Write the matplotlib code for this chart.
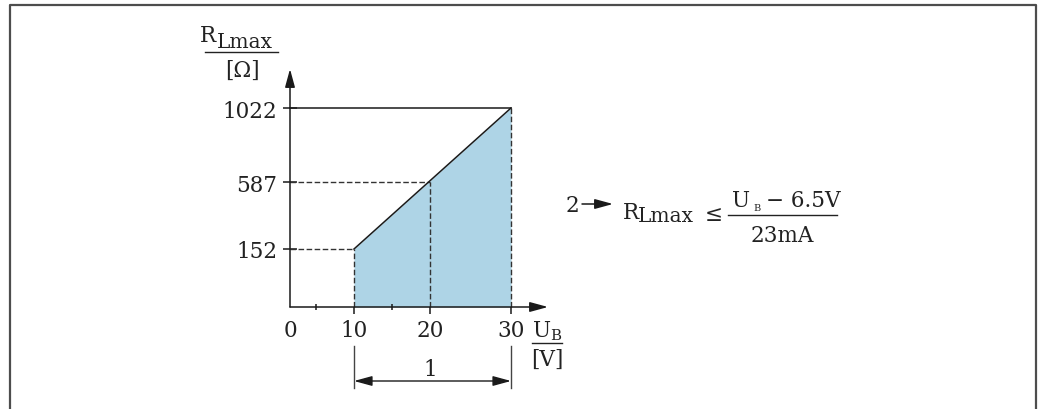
import matplotlib
matplotlib.use('Agg')
import matplotlib.pyplot as plt
import matplotlib.transforms as mtransforms
from matplotlib.lines import Line2D
from matplotlib.patches import FancyArrowPatch
import numpy as np

plt.rcParams['font.family'] = ['DejaVu Serif', 'DejaVu Sans']
plt.rcParams['mathtext.fontset'] = 'dejavuserif'

# values
U_B = [10, 20, 30]            # supply voltage [V]
R_LMAX = [152, 587, 1022]     # max load [Ohm]
X_TICKS = [0, 10, 20, 30]
X_MINOR = [5, 15]

# the drawing is schematic (not to scale): value -> pixel offset from origin
X_KNOT = [-100, 0, 5, 10, 15, 20, 30, 100]
X_PIX = [-520, 0, 26, 64, 102, 140, 221, 788]
Y_KNOT = [-1000, 0, 152, 587, 1022, 3000]
Y_PIX = [-380, 0, 58, 125, 199, 535]

TXT = '#222222'
LINE = '#1a1a1a'
DASH = '#333333'
FILL = '#aed4e6'
FS = 15.5
FS_SUB = 14.5

W, H = 1038, 410
fig = plt.figure(figsize=(W / 100, H / 100), dpi=100)


def fx(x):
    return x / W


def fy(y):
    return 1 - y / H


ax = fig.add_axes([fx(290), fy(308), (548 - 290) / W, (308 - 70) / H])
ax.set_xscale('function', functions=(lambda v: np.interp(v, X_KNOT, X_PIX),
                                     lambda p: np.interp(p, X_PIX, X_KNOT)))
ax.set_yscale('function', functions=(lambda v: np.interp(v, Y_KNOT, Y_PIX),
                                     lambda p: np.interp(p, Y_PIX, Y_KNOT)))
ax.set_xlim(0, np.interp(258, X_PIX, X_KNOT))
ax.set_ylim(0, np.interp(238, Y_PIX, Y_KNOT))
ax.patch.set_visible(False)
for s in ax.spines.values():
    s.set_visible(False)

# axes with arrow heads
arrow_kw = dict(arrowstyle='-|>,head_length=1.1,head_width=0.3', mutation_scale=10,
                color=LINE, lw=1.1, shrinkA=0, shrinkB=0)
ax.annotate('', xy=(1, 0), xytext=(0, 0), xycoords='axes fraction', arrowprops=arrow_kw)
ax.annotate('', xy=(0, 1), xytext=(0, 0), xycoords='axes fraction', arrowprops=arrow_kw)

# ticks
ax.set_yticks(R_LMAX)
ax.tick_params(axis='y', direction='inout', length=10, width=1.1, pad=4.0,
               labelsize=FS, labelcolor=TXT, color=LINE)
ax.set_xticks(X_TICKS)
ax.set_xticks(X_MINOR, minor=True)
ax.tick_params(axis='x', which='major', direction='out', length=5, width=1.1, pad=4.0,
               labelsize=FS, labelcolor=TXT, color=LINE)
ax.tick_params(axis='x', which='minor', direction='inout', length=4.5, width=1.1, color=LINE)
ax.xaxis.get_major_ticks()[0].tick1line.set_visible(False)

# shaded working area
ax.fill_between([U_B[0], U_B[-1]], [R_LMAX[0], R_LMAX[-1]], color=FILL, lw=0, zorder=1)

dash = (0, (4, 1.8))
for u, r in zip(U_B, R_LMAX):
    ax.plot([u, u], [0, r], color=DASH, lw=1, ls=dash, zorder=2, clip_on=False)
for u, r in zip(U_B[:-1], R_LMAX[:-1]):
    ax.plot([0, u], [r, r], color=DASH, lw=1, ls=dash, zorder=2, clip_on=False)
ax.plot([0, U_B[-1]], [R_LMAX[-1], R_LMAX[-1]], color=LINE, lw=1.1, zorder=3, clip_on=False)
ax.plot([U_B[0], U_B[-1]], [R_LMAX[0], R_LMAX[-1]], color=LINE, lw=1.1, zorder=3, clip_on=False)

# dimension "1" below the axis
trans = mtransforms.blended_transform_factory(ax.transData, fig.transFigure)
for u in (U_B[0], U_B[-1]):
    fig.add_artist(Line2D([u, u], [fy(347), fy(389)], transform=trans, color='#444444', lw=1))
ax.annotate('', xy=(U_B[-1], fy(382)), xytext=(U_B[0], fy(382)), xycoords=trans, textcoords=trans,
            arrowprops=dict(arrowstyle='<|-|>,head_length=1.1,head_width=0.3', mutation_scale=10,
                            color=LINE, lw=1, shrinkA=0, shrinkB=0), annotation_clip=False)
ax.text(U_B[1], fy(370), '1', transform=trans, ha='center', va='center', fontsize=FS, color=TXT)

# y label  R_Lmax / [Ω]
fig.text(fx(200), fy(42), 'R', ha='left', va='baseline', fontsize=FS, color=TXT)
fig.text(fx(217), fy(48), 'Lmax', ha='left', va='baseline', fontsize=FS_SUB, color=TXT)
fig.add_artist(Line2D([fx(205), fx(278)], [fy(53), fy(53)], transform=fig.transFigure, color=TXT, lw=1))
fig.text(fx(242), fy(71), '[Ω]', ha='center', va='center', fontsize=FS, color=TXT)

# x label  U_B / [V]
fig.text(fx(547), fy(337), r'U$_\mathrm{B}$', ha='center', va='baseline', fontsize=FS, color=TXT)
fig.add_artist(Line2D([fx(532), fx(562)], [fy(344), fy(344)], transform=fig.transFigure, color=TXT, lw=1))
fig.text(fx(547), fy(360), '[V]', ha='center', va='center', fontsize=FS, color=TXT)

# formula 2 -> R_Lmax <= (U_B - 6.5V) / 23mA
fig.text(fx(572), fy(206), '2', ha='center', va='center', fontsize=FS, color=TXT)
fig.add_artist(FancyArrowPatch(
    (fx(582), fy(205)), (fx(613), fy(205)), transform=fig.transFigure,
    arrowstyle='-|>,head_length=1.1,head_width=0.3', mutation_scale=10, color=LINE, lw=1.1,
    shrinkA=0, shrinkB=0))
fig.text(fx(623), fy(219), 'R', ha='left', va='baseline', fontsize=FS, color=TXT)
fig.text(fx(638), fy(222), 'Lmax', ha='left', va='baseline', fontsize=FS_SUB, color=TXT)
fig.text(fx(714), fy(215), '≤', ha='center', va='center', fontsize=FS, color=TXT)
fig.add_artist(Line2D([fx(728), fx(837)], [fy(216), fy(216)], transform=fig.transFigure, color=TXT, lw=1))
fig.text(fx(732), fy(207), 'U', ha='left', va='baseline', fontsize=FS, color=TXT)
fig.text(fx(753), fy(211), 'B', ha='left', va='baseline', fontsize=7, color=TXT)
fig.text(fx(766), fy(207), '\u2212 6.5V', ha='left', va='baseline', fontsize=FS, color=TXT)
fig.text(fx(782), fy(242), '23mA', ha='center', va='baseline', fontsize=FS, color=TXT)

# open frame around the figure
fig.add_artist(Line2D([fx(9.5), fx(9.5), fx(1036), fx(1036)], [0, fy(5.5), fy(5.5), 0],
                      transform=fig.transFigure, color='#4d4d4d', lw=1.6))

fig.savefig('out.png', dpi=100)
